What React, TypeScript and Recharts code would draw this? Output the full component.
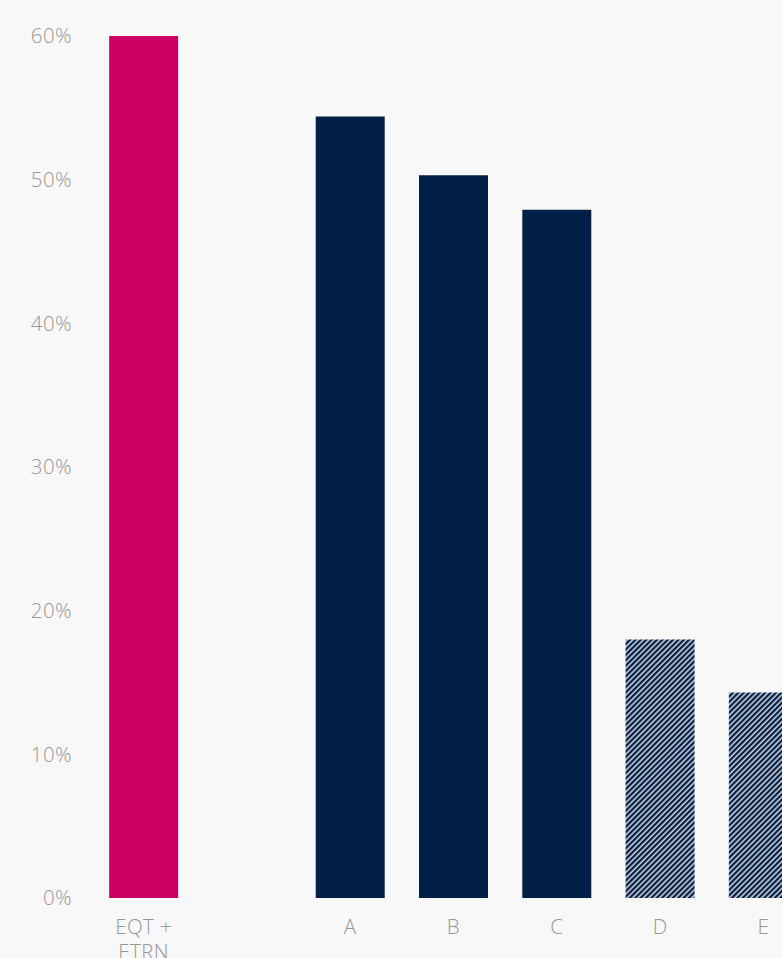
import { BarChart, Bar, XAxis, YAxis, Cell } from "recharts";

const categories = ["EQT + ETRN", "", "A", "B", "C", "D", "E"];
const shares = [60, null, 54.4, 50.3, 47.9, 18.0, 14.3];
const kinds = ["highlight", "gap", "solid", "solid", "solid", "hatched", "hatched"];
const yTicks = [0, 10, 20, 30, 40, 50, 60];

const data = categories.map((name, i) => ({ name, share: shares[i], kind: kinds[i] }));

const fillFor = (kind: string) =>
  kind === "highlight" ? "#cc0063" : kind === "hatched" ? "url(#hatch)" : "#021f47";

const FONT = "'Open Sans', Lato, sans-serif";
const TEXT = "#979797";

function XTick(props: any) {
  const { x, y, payload } = props;
  const words: string[] = String(payload.value).split(" ");
  const lines = words.length > 2 ? [words.slice(0, 2).join(" "), words.slice(2).join(" ")] : [payload.value];
  return (
    <text x={x} y={y} textAnchor="middle" fill={TEXT} fontSize={20.5} fontWeight={300} fontFamily={FONT} letterSpacing={0.4}>
      {lines.map((l: string, i: number) => (
        <tspan key={i} x={x} dy={i === 0 ? 34 : 25}>
          {l}
        </tspan>
      ))}
    </text>
  );
}

export default function App() {
  return (
    <div style={{ position: "absolute", left: 0, top: 0, width: 782, height: 958, overflow: "hidden", background: "#f8f8f8" }}>
      <BarChart width={815} height={958} data={data} margin={{ top: 36, right: 0, left: 0, bottom: 0 }} barCategoryGap="16.6%">
        <defs>
          <pattern id="hatch" patternUnits="userSpaceOnUse" width={3.8} height={10} patternTransform="rotate(45)">
            <rect x={0} y={0} width={3.8} height={10} fill="#d6d8dc" />
            <rect x={0} y={0} width={2.3} height={10} fill="#021f47" />
          </pattern>
        </defs>
        <YAxis
          width={92}
          domain={[0, 60]}
          ticks={yTicks}
          interval={0}
          axisLine={false}
          tickLine={false}
          tickSize={0}
          tickMargin={20}
          tickFormatter={(v: number) => `${v}%`}
          tick={{ fill: TEXT, fontSize: 20.5, fontWeight: 300, fontFamily: FONT, letterSpacing: 0.4 }}
        />
        <XAxis dataKey="name" height={60} interval={0} axisLine={false} tickLine={false} tickSize={0} tick={<XTick />} />
        <Bar dataKey="share" isAnimationActive={false}>
          {data.map((d, i) => (
            <Cell key={i} fill={fillFor(d.kind)} />
          ))}
        </Bar>
      </BarChart>
    </div>
  );
}
